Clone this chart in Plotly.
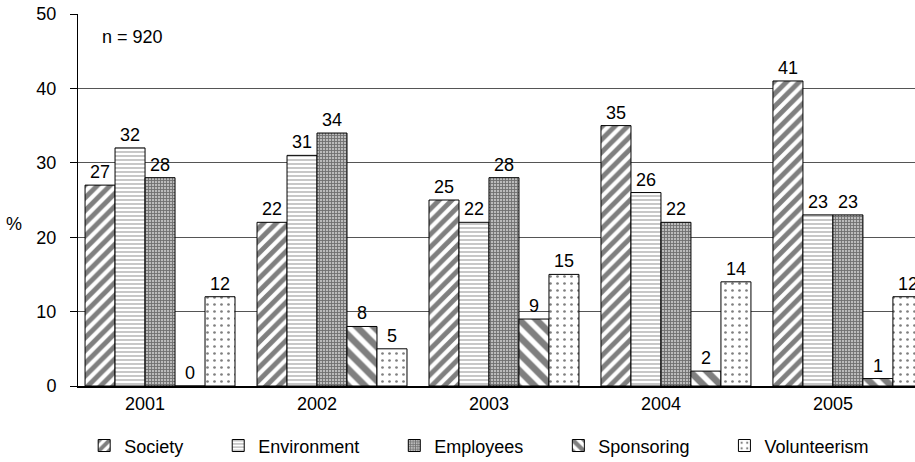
import plotly.graph_objects as go
import numpy as np

years = ["2001", "2002", "2003", "2004", "2005"]
society = [27, 22, 25, 35, 41]
environment = [32, 31, 22, 26, 23]
employees = [28, 34, 28, 22, 23]
sponsoring = [0, 8, 9, 2, 1]
volunteerism = [12, 5, 15, 14, 12]

series_names = ["Society", "Environment", "Employees", "Sponsoring", "Volunteerism"]
series_values = [society, environment, employees, sponsoring, volunteerism]
patterns = [
    dict(shape="/", size=9, solidity=0.55, fgcolor="black", bgcolor="white", fillmode="overlay"),
    dict(shape="-", size=4, solidity=0.3, fgcolor="#444", bgcolor="white", fillmode="overlay"),
    dict(shape="+", size=3, solidity=0.5, fgcolor="#222", bgcolor="#bbb", fillmode="overlay"),
    dict(shape="\\", size=12, solidity=0.55, fgcolor="black", bgcolor="white", fillmode="overlay"),
    dict(shape=".", size=7, solidity=0.12, fgcolor="black", bgcolor="white", fillmode="overlay"),
]

FONT = "Liberation Sans, Arial, sans-serif"
FS = 18
x_pos = np.arange(len(years))
pad = "\u00a0" * 6

fig = go.Figure()
for name, vals, pat in zip(series_names, series_values, patterns):
    fig.add_trace(go.Bar(
        x=x_pos, y=vals, name=name + pad,
        marker=dict(color="white", pattern=pat, line=dict(color="black", width=1)),
        text=[str(v) for v in vals], textposition="outside",
        textfont=dict(size=FS, color="black", family=FONT),
        constraintext="none", cliponaxis=False,
    ))

fig.update_layout(
    width=915, height=462, autosize=False,
    margin=dict(l=78, r=0, t=14, b=76),
    barmode="group", bargap=0.128, bargroupgap=0,
    plot_bgcolor="white", paper_bgcolor="white",
    font=dict(family=FONT, size=FS, color="black"),
    showlegend=True,
    legend=dict(orientation="h", xref="container", yref="container",
                x=0.092, xanchor="left", y=0.035, yanchor="middle",
                font=dict(size=FS, family=FONT), traceorder="normal"),
    xaxis=dict(range=[-0.477, 4.39], tickvals=list(x_pos - 0.087), ticktext=years,
               showgrid=False, zeroline=False, showline=True, linecolor="black",
               linewidth=2, ticks="", tickfont=dict(size=FS)),
    yaxis=dict(range=[0, 50], tickvals=[0, 10, 20, 30, 40, 50], showgrid=True,
               gridcolor="#555", gridwidth=1, zeroline=False, showline=True,
               linecolor="black", linewidth=1, ticks="outside", ticklen=7,
               tickcolor="black", ticklabelstandoff=10, tickfont=dict(size=FS)),
    annotations=[
        dict(text="n = 920", xref="paper", yref="paper", x=0.026, y=0.937,
             xanchor="left", yanchor="middle", showarrow=False, font=dict(size=FS)),
        dict(text="%", xref="paper", yref="paper", x=-0.088, y=0.435,
             xanchor="left", yanchor="middle", showarrow=False, font=dict(size=FS)),
    ],
)

fig.write_html("out.html")
